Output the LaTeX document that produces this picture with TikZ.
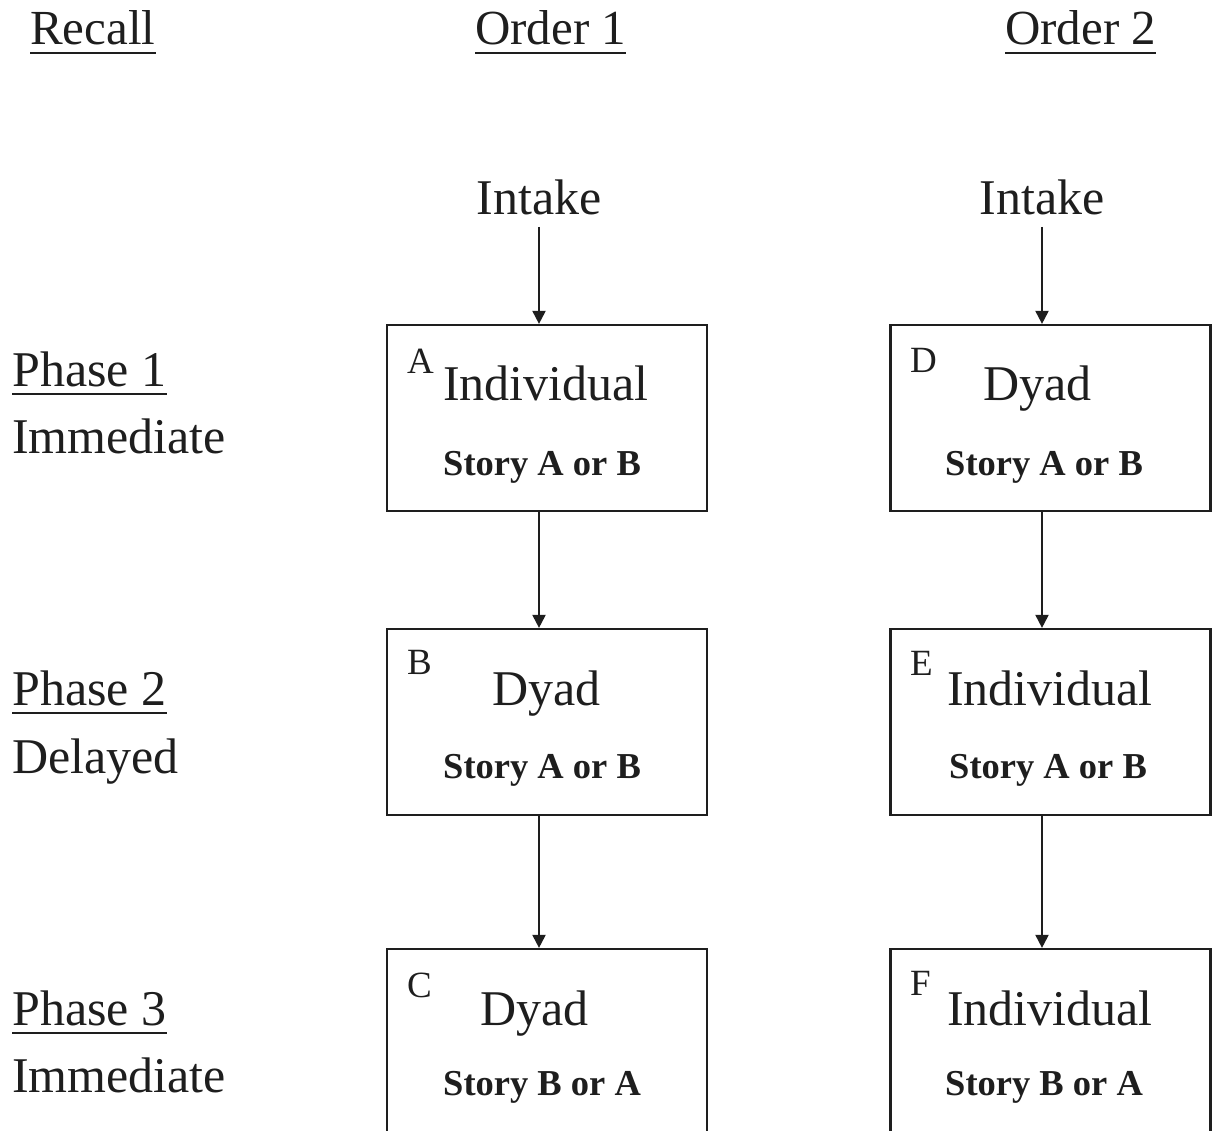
\documentclass[tikz,border=0pt]{standalone}
\usepackage{fontspec}
\setmainfont{Liberation Serif}
\usetikzlibrary{arrows.meta}
\definecolor{ink}{HTML}{1E1E1E}
\tikzset{
  txt/.style={inner sep=0pt, anchor=base west, text=ink, font=\fontsize{50}{60}\selectfont},
  hdr/.style={txt, font=\fontsize{49}{59}\selectfont},
  tag/.style={txt, font=\fontsize{37}{44}\selectfont},
  story/.style={txt, font=\bfseries\fontsize{36.5}{44}\selectfont},
  stagebox/.style={draw=ink, line width=2.2pt, minimum width=320pt, minimum height=186pt, inner sep=0pt},
  arr/.style={draw=ink, line width=2pt, -{Triangle[length=13pt,width=13pt]}},
  uline/.style={draw=ink, line width=2.5pt}
}
\begin{document}
\begin{tikzpicture}[x=1pt,y=-1pt]
\useasboundingbox (0,0) rectangle (1212,1131);
\clip (0,0) rectangle (1212,1131);
% headers
\node[hdr] (recall) at (30,45) {Recall};
\node[hdr] (ord1) at (475,45) {Order 1};
\node[hdr] (ord2) at (1005,45) {Order 2};
\foreach \n in {recall,ord1,ord2}
  \draw[uline] ([yshift=-8pt]\n.base west) -- ([yshift=-8pt]\n.base east);
% phase labels
\node[txt] (ph1) at (12,386) {Phase 1};
\node[txt] (im1) at (12,453) {Immediate};
\node[txt] (ph2) at (12,705) {Phase 2};
\node[txt] (del) at (12,773) {Delayed};
\node[txt] (ph3) at (12,1025) {Phase 3};
\node[txt] (im3) at (12,1092) {Immediate};
\foreach \n in {ph1,ph2,ph3}
  \draw[uline] ([yshift=-8pt]\n.base west) -- ([yshift=-8pt]\n.base east);
% intake
\node[txt, anchor=base] (int1) at (539,215) {Intake};
\node[txt, anchor=base] (int2) at (1042,215) {Intake};
% boxes
\node[stagebox] (A) at (547,418) {};
\node[stagebox] (B) at (547,722) {};
\node[stagebox] (C) at (547,1042) {};
\node[stagebox] (D) at (1050.5,418) {};
\node[stagebox] (E) at (1050.5,722) {};
\node[stagebox] (F) at (1050.5,1042) {};
% box A
\node[tag] (tA) at (407,373) {A};
\node[txt] (mA) at (443,400) {Individual};
\node[story] (sA) at (443,475) {Story A or B};
% box B
\node[tag] (tB) at (407,674) {B};
\node[txt] (mB) at (492,705) {Dyad};
\node[story] (sB) at (443,778) {Story A or B};
% box C
\node[tag] (tC) at (407,997) {C};
\node[txt] (mC) at (480,1025) {Dyad};
\node[story] (sC) at (443,1095) {Story B or A};
% box D
\node[tag] (tD) at (910,372) {D};
\node[txt] (mD) at (983,400) {Dyad};
\node[story] (sD) at (945,475) {Story A or B};
% box E
\node[tag] (tE) at (910,675) {E};
\node[txt] (mE) at (947,705) {Individual};
\node[story] (sE) at (949,778) {Story A or B};
% box F
\node[tag] (tF) at (910,995) {F};
\node[txt] (mF) at (947,1025) {Individual};
\node[story] (sF) at (945,1095) {Story B or A};
% arrows
\draw[arr] ([yshift=-12pt]int1.base) -- (int1.base |- A.north);
\draw[arr] (A.south -| int1.base) -- (B.north -| int1.base);
\draw[arr] (B.south -| int1.base) -- (C.north -| int1.base);
\draw[arr] ([yshift=-12pt]int2.base) -- (int2.base |- D.north);
\draw[arr] (D.south -| int2.base) -- (E.north -| int2.base);
\draw[arr] (E.south -| int2.base) -- (F.north -| int2.base);
\end{tikzpicture}
\end{document}
